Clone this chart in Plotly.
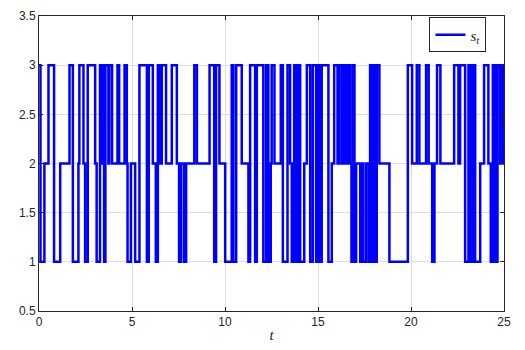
import plotly.graph_objects as go

# Instantes de salto y estado que toma s_t a partir de cada uno
t_saltos = [
    0.00, 0.08, 0.29, 0.51, 0.81, 1.14, 1.64, 1.82, 2.12, 2.17, 2.39, 2.48, 2.62,
    3.02, 3.10, 3.28, 3.37, 3.43, 3.50, 3.57, 3.73, 3.78, 3.93,
    4.22, 4.31, 4.60, 4.72, 4.76, 4.94, 5.17, 5.40, 5.80, 5.90, 6.12, 6.28, 6.39,
    6.51, 6.60, 6.83, 7.14, 7.41, 7.53, 7.64, 7.80, 7.91,
    8.35, 8.49, 9.17, 9.42, 9.52, 9.70, 10.01, 10.36, 10.45, 10.60, 10.90, 11.26,
    11.35, 11.62, 11.71, 12.06, 12.21, 12.33, 12.46, 12.51,
    12.66, 13.00, 13.11, 13.36, 13.50, 13.59, 13.72, 13.83, 13.95, 14.04, 14.26,
    14.40, 14.58, 14.72, 14.90, 15.02, 15.11, 15.20, 15.56, 15.74, 15.87, 16.05,
    16.16, 16.30, 16.42, 16.51, 16.62, 16.73, 16.80, 16.87, 16.96, 17.05, 17.27,
    17.37, 17.44, 17.59, 17.73, 17.80, 17.89, 17.99, 18.09, 18.16, 18.30, 18.84,
    19.83, 20.06, 20.31, 20.45, 20.81, 20.95, 21.14, 21.26, 21.40, 21.58,
    22.32, 22.55, 22.64, 22.91, 23.09, 23.21, 23.32,
    23.45, 23.72, 23.93, 24.16, 24.29, 24.40, 24.52, 24.65, 24.79, 24.88, 24.97,
    25.00,
]
s_estado = [
    3, 1, 2, 3, 1, 2, 3, 1, 2, 3, 2, 1, 3,
    2, 1, 3, 2, 3, 1, 3, 2, 3, 2,
    3, 2, 3, 2, 1, 2, 1, 3, 1, 3, 2, 1, 3,
    2, 3, 2, 3, 2, 1, 2, 1, 2,
    3, 2, 3, 1, 3, 2, 1, 3, 1, 3, 2, 1,
    3, 1, 3, 1, 3, 1, 2, 3,
    2, 3, 1, 3, 2, 1, 3, 1, 3, 1, 2,
    3, 1, 3, 1, 3, 1, 3, 1, 2, 3, 2,
    3, 2, 3, 2, 3, 2, 1, 3, 1, 2, 1,
    2, 1, 2, 1, 3, 1, 3, 1, 3, 2, 1,
    3, 2, 3, 2, 3, 2, 1, 2, 3, 2,
    3, 2, 3, 1, 3, 1, 3,
    1, 2, 3, 2, 1, 3, 1, 3, 2, 3, 2,
    2,
]

ticks_x = [0, 5, 10, 15, 20, 25]
ticks_y = [0.5, 1, 1.5, 2, 2.5, 3, 3.5]
etiquetas_y = ["0.5", "1", "1.5", "2", "2.5", "3", "3.5"]

fig = go.Figure()
fig.add_trace(
    go.Scatter(
        x=t_saltos,
        y=s_estado,
        mode="lines",
        line=dict(color="#0000ff", width=2.5, shape="hv"),
        name="<i>s</i><sub><i>t</i></sub>",
    )
)

ejes = dict(
    showline=True,
    linecolor="#262626",
    linewidth=1,
    mirror="ticks",
    ticks="inside",
    ticklen=4,
    tickcolor="#262626",
    showgrid=True,
    gridcolor="#dedede",
    gridwidth=1,
    zeroline=False,
    automargin=False,
    ticklabeloverflow="allow",
    tickfont=dict(family="Liberation Sans, Arial, sans-serif", size=12, color="#262626"),
)

fig.update_xaxes(
    range=[0, 25],
    tickvals=ticks_x,
    title=dict(
        text="<i>t</i>",
        font=dict(family="Liberation Serif, serif", size=15, color="#262626"),
        standoff=3,
    ),
    **ejes,
)
fig.update_yaxes(range=[0.5, 3.5], tickvals=ticks_y, ticktext=etiquetas_y, **ejes)

# La pagina deja 8 px de margen en el body: la figura se achica para compensar
fig.update_layout(
    width=509,
    height=335,
    margin=dict(l=31, r=13, t=8, b=32),
    plot_bgcolor="white",
    paper_bgcolor="white",
    showlegend=True,
    legend=dict(
        x=0.901,
        y=0.995,
        xanchor="center",
        yanchor="top",
        bgcolor="white",
        bordercolor="#262626",
        borderwidth=1,
        font=dict(family="Liberation Serif, serif", size=15, color="#262626"),
    ),
)

fig.write_html("out.html")
